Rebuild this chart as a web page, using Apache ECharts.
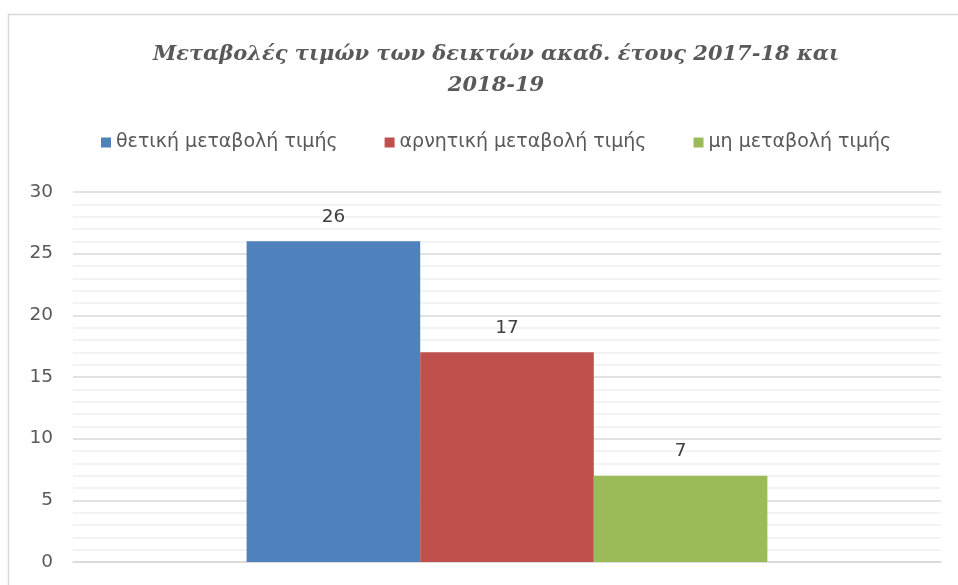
<!DOCTYPE html>
<html>
<head>
<meta charset="utf-8">
<script src="https://cdn.jsdelivr.net/npm/echarts@6/dist/echarts.min.js"></script>
<style>
html,body{margin:0;padding:0;background:#fff;}
#chart{width:958px;height:585px;}
</style>
</head>
<body>
<div id="chart"></div>
<script>
const titleText = 'Μεταβολές τιμών των δεικτών ακαδ. έτους 2017-18 και\n2018-19';
const categories = [''];
const seriesNames = ['θετική μεταβολή τιμής', 'αρνητική μεταβολή τιμής', 'μη μεταβολή τιμής'];
const positiveValues = [26];
const negativeValues = [17];
const unchangedValues = [7];
const seriesColors = ['#4f81bd', '#c0504d', '#9bbb59'];
const yMin = 0, yMax = 30, yInterval = 5;

const chart = echarts.init(document.getElementById('chart'), null, {renderer: 'canvas'});
const valueSets = [positiveValues, negativeValues, unchangedValues];
const textColor = '#595959';
const sansFont = 'DejaVu Sans';

chart.setOption({
  animation: false,
  backgroundColor: '#fff',
  graphic: [{
    type: 'rect',
    shape: {x: 8.5, y: 14.5, width: 1200, height: 1200},
    style: {fill: 'none', stroke: '#d9d9d9', lineWidth: 1.5},
    silent: true
  }],
  title: {
    text: titleText,
    left: 491,
    textAlign: 'center',
    top: 34,
    textStyle: {
      fontFamily: 'DejaVu Serif',
      fontStyle: 'italic',
      fontWeight: 'bold',
      fontSize: 21,
      lineHeight: 31,
      color: textColor
    }
  },
  legend: {
    data: seriesNames,
    top: 128,
    left: 96,
    icon: 'rect',
    itemWidth: 10,
    itemHeight: 10,
    itemGap: 47,
    textStyle: {fontFamily: sansFont, fontSize: 19, color: textColor}
  },
  grid: {left: 73, right: 17, top: 192, bottom: 23, containLabel: false},
  xAxis: {
    type: 'category',
    data: categories,
    axisLine: {show: true, lineStyle: {color: '#d9d9d9', width: 1.5}},
    axisTick: {show: false},
    axisLabel: {show: false}
  },
  yAxis: {
    type: 'value',
    min: yMin,
    max: yMax,
    interval: yInterval,
    axisLine: {show: false},
    axisTick: {show: false},
    axisLabel: {fontFamily: sansFont, fontSize: 18.5, color: textColor, margin: 20},
    splitLine: {lineStyle: {color: '#d9d9d9', width: 1.5}},
    minorTick: {show: false, splitNumber: 5},
    minorSplitLine: {show: true, lineStyle: {color: '#f0f0f0', width: 1.5}}
  },
  series: seriesNames.map((name, i) => ({
    name: name,
    type: 'bar',
    data: valueSets[i],
    barGap: '0%',
    barCategoryGap: '40%',
    itemStyle: {color: seriesColors[i]},
    label: {
      show: true,
      position: 'top',
      distance: 15,
      fontFamily: sansFont,
      fontSize: 18.5,
      color: '#404040'
    }
  }))
});
</script>
</body>
</html>
